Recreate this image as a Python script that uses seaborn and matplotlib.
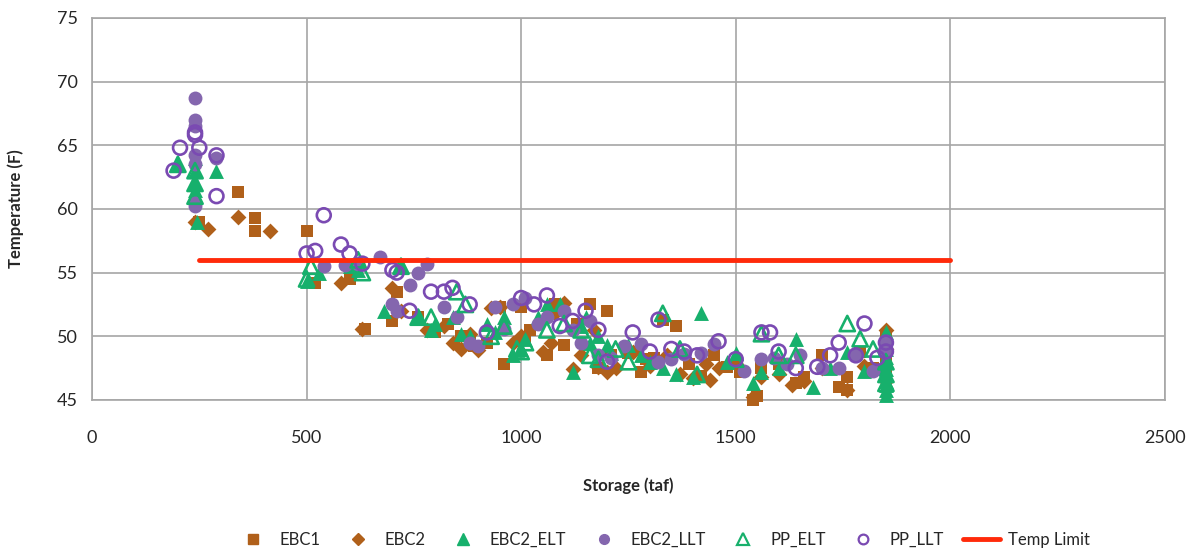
import pandas as pd
import matplotlib
matplotlib.use('Agg')
import matplotlib.pyplot as plt
import seaborn as sns
from matplotlib.lines import Line2D

# values (storage taf, temperature F)
ebc1_x = [250, 340, 380, 380, 500, 520, 600, 635, 700, 710, 760, 800, 830, 860, 890, 920, 950, 960,
          1000, 1010, 1060, 1080, 1100, 1130, 1160, 1200, 1210, 1250, 1280, 1310, 1330, 1360, 1390,
          1420, 1450, 1480, 1510, 1540, 1560, 1600, 1640, 1660, 1700, 1740, 1760, 1790, 1820, 1850,
          1850, 1850, 880, 1020, 1180, 1290, 1550, 1760]
ebc1_y = [59, 61.3, 59.3, 58.3, 58.3, 54.2, 54.5, 50.6, 51.2, 53.5, 51.5, 50.3, 51, 50, 49.2, 49.5,
          52.3, 47.8, 52.3, 49.8, 48.5, 52.5, 49.3, 51, 52.5, 52, 48.5, 48.7, 47.2, 48.3, 51.3, 50.8,
          47.8, 46.9, 48.5, 47.6, 47.2, 45, 47.5, 47.8, 46.3, 46.8, 48.5, 46, 46.8, 48.8, 47.5, 50,
          47, 48, 49.8, 50.5, 47.5, 48.2, 45.3, 45.8]

ebc2_x = [240, 270, 340, 415, 580, 630, 700, 720, 780, 820, 840, 860, 880, 900, 930, 950, 980, 1000,
          1050, 1070, 1100, 1120, 1140, 1170, 1200, 1220, 1260, 1300, 1340, 1370, 1400, 1430, 1460,
          1500, 1540, 1560, 1600, 1630, 1660, 1700, 1760, 1800, 1850, 1850, 1850, 1080, 1180, 1440]
ebc2_y = [59, 58.4, 59.4, 58.3, 54.2, 50.6, 53.8, 52, 50.5, 50.8, 49.5, 49, 50.2, 48.9, 52.2, 52.3,
          49.5, 50, 48.8, 49.5, 52.6, 47.4, 48.5, 50.5, 47.2, 47.5, 48.8, 47.7, 48.5, 47, 46.7, 47.8,
          47.5, 47.8, 45.2, 46.8, 47, 46.2, 46.5, 47.5, 45.8, 47.7, 50.5, 49, 46.5, 51.8, 47.6, 46.6]

ebc2_elt_x = [200, 240, 240, 240, 240, 245, 290, 500, 530, 600, 620, 680, 720, 760, 790, 800, 840,
              860, 880, 920, 960, 980, 1000, 1040, 1060, 1090, 1120, 1150, 1160, 1180, 1210, 1250,
              1280, 1300, 1330, 1360, 1400, 1420, 1480, 1500, 1540, 1560, 1600, 1640, 1680, 1720,
              1760, 1800, 1840, 1850, 1850, 1850, 1850, 1850, 1850, 1850, 1850, 1850, 1850, 1850,
              1850, 1140, 1200, 940, 1010]
ebc2_elt_y = [63.5, 64, 63, 62, 61.5, 59, 63, 54.3, 55, 55.5, 55.2, 52, 55.5, 51.5, 50.5, 51, 51.5,
              50.2, 50, 51, 51.5, 48.5, 49, 51.5, 52.5, 52.5, 47.2, 51.5, 49.5, 50, 48.7, 49.3, 48.5,
              48, 47.5, 47, 46.8, 51.8, 48, 48.7, 46.3, 47.2, 47.5, 49.8, 46, 47.5, 48.8, 47.3, 47.5,
              50, 49, 48, 47, 46.5, 45.8, 45.4, 46.2, 47.4, 48.4, 49.5, 50.3, 50.8, 49.3, 50.3, 49.8]

ebc2_llt_x = [240, 240, 240, 240, 240, 240, 240, 290, 540, 590, 620, 670, 700, 710, 740, 760, 780,
              820, 850, 880, 900, 940, 980, 1010, 1040, 1060, 1100, 1140, 1180, 1210, 1240, 1280,
              1320, 1350, 1380, 1420, 1450, 1520, 1560, 1590, 1620, 1650, 1700, 1740, 1780, 1820,
              1850, 1850, 1850, 1120, 1160, 960]
ebc2_llt_y = [68.7, 67, 66.5, 64.2, 63.5, 60.5, 60.2, 64, 55.5, 55.6, 55.7, 56.2, 52.5, 52, 54, 55,
              55.7, 52.3, 51.5, 49.5, 49.2, 52.3, 52.5, 53, 51, 51.5, 52, 49.5, 48.5, 48.3, 49.2,
              49.4, 48, 48.2, 48.6, 48.7, 49.4, 47.3, 48.2, 48.3, 47.8, 48.5, 47.5, 47.5, 48.5, 47.3,
              49.5, 48.8, 49, 50.5, 51.2, 50.6]

pp_elt_x = [200, 240, 240, 240, 500, 510, 620, 630, 720, 760, 790, 850, 870, 930, 960, 990, 1010,
            1060, 1100, 1140, 1160, 1220, 1250, 1330, 1370, 1410, 1500, 1560, 1600, 1640, 1760, 1790,
            1820, 1850, 1850, 1850, 1000, 1180]
pp_elt_y = [63.5, 63, 62, 61, 54.5, 55.5, 56, 55, 55.5, 51.5, 51.5, 53.5, 52.5, 50, 50.8, 49, 49.5,
            50.5, 51, 50.5, 48.5, 49, 48, 51.8, 49, 47, 48.2, 50.2, 48.5, 48.5, 51, 49.8, 49, 48, 47,
            46.3, 48.8, 48.2]

pp_llt_x = [190, 205, 240, 240, 250, 290, 290, 500, 520, 540, 580, 600, 630, 700, 710, 740, 790,
            820, 840, 880, 920, 1000, 1030, 1060, 1090, 1120, 1150, 1180, 1200, 1260, 1300, 1320,
            1350, 1380, 1410, 1460, 1500, 1560, 1580, 1600, 1640, 1690, 1720, 1740, 1780, 1800,
            1830, 1850, 1850]
pp_llt_y = [63, 64.8, 66, 65.8, 64.8, 61, 64.2, 56.5, 56.7, 59.5, 57.2, 56.5, 55.7, 55.2, 55, 52,
            53.5, 53.5, 53.8, 52.5, 50.3, 53, 52.5, 53.2, 50.8, 51.2, 52, 50.5, 48, 50.3, 48.8, 51.3,
            49, 48.8, 48.5, 49.6, 48.2, 50.3, 50.3, 48.8, 47.5, 47.6, 48.5, 49.5, 48.5, 51, 48.3,
            49.5, 48.8]

limit_x = [250, 2000]
limit_y = [56, 56]

brown = '#B0601A'
green = '#17B06C'
purple = '#8466AE'
purple_edge = '#7A4AB2'
red = '#FF2A0A'

sns.set_style('white')
plt.rcParams['font.family'] = ['Lato', 'DejaVu Sans']

fig = plt.figure(figsize=(12, 5.57), dpi=100)
ax = fig.add_axes([0.0767, 0.282, 0.894, 0.686])

sns.scatterplot(x=ebc1_x, y=ebc1_y, marker='s', color=brown, s=80, linewidth=0, ax=ax, clip_on=False, zorder=3)
sns.scatterplot(x=ebc2_x, y=ebc2_y, marker='D', color=brown, s=65, linewidth=0, ax=ax, clip_on=False, zorder=3)
sns.scatterplot(x=ebc2_elt_x, y=ebc2_elt_y, marker='^', color=green, s=115, linewidth=0, ax=ax, clip_on=False, zorder=3)
sns.scatterplot(x=ebc2_llt_x, y=ebc2_llt_y, marker='o', color=purple, s=100, linewidth=0, ax=ax, clip_on=False, zorder=3)
sns.scatterplot(x=pp_elt_x, y=pp_elt_y, marker='^', facecolor='none', edgecolor=green, s=120, linewidth=1.9, ax=ax, clip_on=False, zorder=3)
sns.scatterplot(x=pp_llt_x, y=pp_llt_y, marker='o', facecolor='none', edgecolor=purple_edge, s=100, linewidth=1.9, ax=ax, clip_on=False, zorder=3)
sns.lineplot(x=limit_x, y=limit_y, color=red, linewidth=3.5, ax=ax, zorder=4, solid_capstyle='round')

ax.set_xlim(0, 2500)
ax.set_ylim(45, 75)
ax.set_xticks(range(0, 2501, 500))
ax.set_yticks(range(45, 76, 5))
ax.grid(True, color='#A6A6A6', linewidth=1.2)
ax.set_axisbelow(True)
for sp in ax.spines.values():
    sp.set_color('#A6A6A6')
    sp.set_linewidth(1.2)
ax.tick_params(axis='both', labelsize=13, length=0)
ax.tick_params(axis='x', pad=22)
ax.tick_params(axis='y', pad=10)
ax.set_xlabel('Storage (taf)', fontsize=12, fontweight='bold', labelpad=22)
ax.set_ylabel('Temperature (F)', fontsize=12, fontweight='bold', labelpad=24)

handles = [
    Line2D([], [], marker='s', color=brown, linestyle='none', markersize=7),
    Line2D([], [], marker='D', color=brown, linestyle='none', markersize=6),
    Line2D([], [], marker='^', color=green, linestyle='none', markersize=8),
    Line2D([], [], marker='o', color=purple, linestyle='none', markersize=7),
    Line2D([], [], marker='^', markerfacecolor='none', markeredgecolor=green, markeredgewidth=1.6, linestyle='none', markersize=8),
    Line2D([], [], marker='o', markerfacecolor='none', markeredgecolor=purple_edge, markeredgewidth=1.6, linestyle='none', markersize=7),
    Line2D([], [], color=red, linewidth=3.5),
]
labels = ['EBC1', 'EBC2', 'EBC2_ELT', 'EBC2_LLT', 'PP_ELT', 'PP_LLT', 'Temp Limit']
fig.legend(handles, labels, loc='center', bbox_to_anchor=(0.552, 0.03), ncol=7, frameon=False,
           fontsize=12, handlelength=2.2, columnspacing=1.15, handletextpad=0.5)

fig.savefig('out.png', dpi=100)
